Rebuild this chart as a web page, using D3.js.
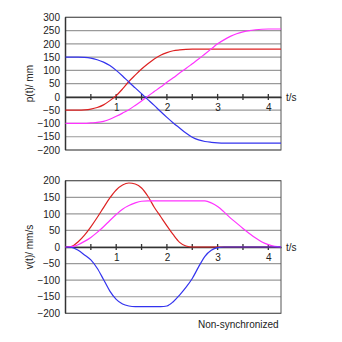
<!DOCTYPE html>
<html><head><meta charset="utf-8">
<script src="https://cdn.jsdelivr.net/npm/d3@7"></script>
<style>body{margin:0;background:#fff}svg{display:block}text{font-family:"Liberation Sans",Arial,sans-serif;}</style>
</head><body>
<svg id="c" width="342" height="342"></svg>
<script>
const tVals = [0,0.125,0.25,0.375,0.5,0.625,0.75,0.875,1,1.125,1.25,1.375,1.5,1.625,1.75,1.875,2,2.125,2.25,2.375,2.5,2.625,2.75,2.875,3,3.125,3.25,3.375,3.5,3.625,3.75,3.875,4,4.125,4.25];
// positions (mm)
const pBlue    = [150,150,150,149,146,140,131,118,100,79,56,34,12,-10,-32,-55,-77,-98,-117,-136,-152,-162,-168,-171,-173,-174,-174,-174,-174,-174,-174,-174,-174,-174,-174];
const pRed     = [-50,-50,-50,-49,-46,-40,-30,-14,5,30,58,82,105,125,143,157,167,174,177,179,180,180,180,180,180,180,180,180,180,180,180,180,180,180,180];
const pMagenta = [-100,-100,-100,-100,-98,-96,-92,-84,-73,-61,-48,-32,-15,3,20,37,55,72,90,107,125,143,162,181,200,215,228,238,245,250,253,255,256,256,256];
// velocities (mm/s)
const vBlue    = [0,-1,-10,-24,-39,-64,-98,-133,-158,-172,-178,-180,-180,-180,-180,-180,-178,-165,-145,-122,-95,-60,-28,-10,-2,0,0,0,0,0,0,0,0,0,0];
const vRed     = [0,2,16,36,61,89,119,148,172,187,193,190,178,153,120,92,64,37,14,3,0,0,0,0,0,0,0,0,0,0,0,0,0,0,0];
const vMagenta = [0,1,7,17,29,44,61,80,98,114,125,133,138,139,139,139,139,139,139,139,139,139,139,133,122,106,88,72,56,41,27,15,7,2,0];
const pTicks = [300,250,200,150,100,50,0,-50,-100,-150,-200];
const vTicks = [200,150,100,50,0,-50,-100,-150,-200];
const xTickLabels = [1,2,3,4];
const xMinorTicks = [0.5,1,1.5,2,2.5,3,3.5,4];
const colors = {blue:"#3333ee", red:"#dd2222", magenta:"#ff33ff"};

const svg = d3.select("#c");
const x = d3.scaleLinear().domain([0,4.25]).range([65.5,281]);

function panel(top, bottom, ymin, ymax, ticks, series, ylabel) {
  const y = d3.scaleLinear().domain([ymin,ymax]).range([bottom, top]);
  const g = svg.append("g");
  g.selectAll("line.grid").data(ticks).join("line")
    .attr("x1", x(0)).attr("x2", x(4.25))
    .attr("y1", d=>y(d)).attr("y2", d=>y(d))
    .attr("stroke", "#9a9a9a").attr("stroke-width", 1.2);
  g.append("rect").attr("x", x(0)).attr("y", top).attr("width", x(4.25)-x(0)).attr("height", bottom-top)
    .attr("fill","none").attr("stroke","#555").attr("stroke-width",1);
  g.append("line").attr("x1",x(0)).attr("x2",x(0)).attr("y1",top).attr("y2",bottom).attr("stroke","#333").attr("stroke-width",1.5);
  const yAxis = d3.axisLeft(y).tickValues(ticks).tickSize(0).tickPadding(4);
  const ya = g.append("g").attr("transform",`translate(${x(0)-1.5},0)`).call(yAxis);
  ya.select(".domain").remove();
  ya.selectAll("text").attr("font-size","10px").attr("fill","#222").attr("font-family","Liberation Sans, Arial, sans-serif");
  const xa = d3.axisBottom(x).tickValues(xMinorTicks).tickSize(0).tickFormat("");
  const xg = g.append("g").attr("transform",`translate(0,${y(0)})`).call(xa);
  xg.select(".domain").attr("stroke","#333").attr("stroke-width",1.5);
  g.selectAll("line.tk").data(xMinorTicks).join("line")
    .attr("x1", d=>x(d)).attr("x2", d=>x(d)).attr("y1", y(0)-3).attr("y2", y(0)+3)
    .attr("stroke","#333").attr("stroke-width",1.3);
  g.selectAll("text.xl").data(xTickLabels).join("text")
    .attr("x", d=>x(d)+0.5).attr("y", y(0)+14).attr("text-anchor","middle")
    .attr("font-size","10px").attr("fill","#222").text(d=>d);
  g.append("text").attr("x",286).attr("y",y(0)+4).attr("font-size","10px").attr("fill","#222").text("t/s");
  g.append("text").attr("transform",`translate(33,${(top+bottom)/2}) rotate(-90)`)
    .attr("text-anchor","middle").attr("font-size","10px").attr("fill","#222").text(ylabel);
  const line = d3.line().x((d,i)=>x(tVals[i])).y(d=>y(d)).curve(d3.curveMonotoneX);
  series.forEach(s => {
    g.append("path").attr("d", line(s.data)).attr("fill","none")
      .attr("stroke", s.color).attr("stroke-width",1.2);
  });
}

panel(17.3, 150, -200, 300, pTicks, [
  {data:pRed, color:colors.red},
  {data:pMagenta, color:colors.magenta},
  {data:pBlue, color:colors.blue}
], "p(t)/ mm");

panel(180.7, 313.3, -200, 200, vTicks, [
  {data:vRed, color:colors.red},
  {data:vMagenta, color:colors.magenta},
  {data:vBlue, color:colors.blue}
], "v(t)/ mm/s");

svg.append("text").attr("x",198).attr("y",328).attr("font-size","10px").attr("fill","#222").text("Non-synchronized");
</script>
</body></html>
